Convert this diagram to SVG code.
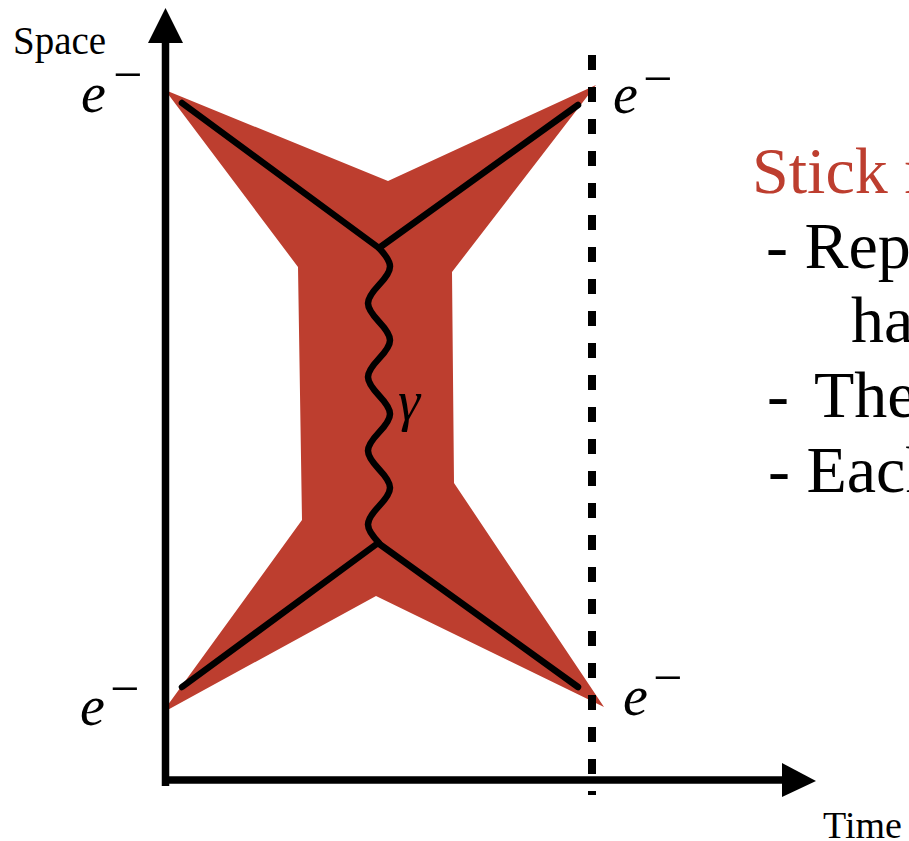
<svg xmlns="http://www.w3.org/2000/svg" width="909" height="841" viewBox="0 0 909 841">
  <style>
    .serif { font-family: "Liberation Serif", "Times New Roman", serif; fill: #000; }
    .math { font-family: "Liberation Serif", "Times New Roman", serif; font-style: italic; font-size: 56px; fill: #000; }
    .minus { font-family: "Liberation Serif", "Times New Roman", serif; font-size: 52px; fill: #000; }
    .body { font-family: "Liberation Serif", "Times New Roman", serif; font-size: 66px; fill: #000; }
    .particle { fill: none; stroke: #000; stroke-width: 6.5; stroke-linecap: round; stroke-linejoin: round; }
    .axis { fill: none; stroke: #000; stroke-width: 7.5; }
  </style>

  <g id="halo">
    <polygon points="165,90 388,181 596,85 452,272 454,483 604,707 376,596 162,713 302,520 298,267" fill="#BD3E2F"/>
  </g>

  <g id="connectors">
    <path class="particle" d="M182,103 L379,248 L578,105"/>
    <path class="particle" d="M182,687 L378,543 L578,687"/>
    <path class="particle" stroke-width="6" d="M379,248 c14.67,15.63 14.67,21.24 0,36.875 c-14.67,15.63 -14.67,21.24 0,36.875 c14.67,15.63 14.67,21.24 0,36.875 c-14.67,15.63 -14.67,21.24 0,36.875 c14.67,15.63 14.67,21.24 0,36.875 c-14.67,15.63 -14.67,21.24 0,36.875 c14.67,15.63 14.67,21.24 0,36.875 c-14.67,15.63 -14.67,21.24 0,36.875"/>
  </g>

  <g id="axes">
    <line class="axis" x1="165.5" y1="786" x2="165.5" y2="40"/>
    <polygon points="165.5,8 148,43 183,43" fill="#000"/>
    <line class="axis" x1="162" y1="780" x2="785" y2="780"/>
    <polygon points="816,781 782,763 782,797" fill="#000"/>
    <line x1="592" y1="55" x2="592" y2="795" stroke="#000" stroke-width="8" stroke-dasharray="15 17"/>
  </g>

  <g id="axis-labels">
    <text class="serif" x="13" y="54" font-size="39">Space</text>
    <text class="serif" x="823" y="838" font-size="38">Time</text>
  </g>

  <g id="e-top-left">
    <text class="math" x="81" y="112">e</text>
    <text class="minus" x="113" y="92">−</text>
  </g>
  <g id="e-top-right">
    <text class="math" x="613" y="113">e</text>
    <text class="minus" x="643" y="96">−</text>
  </g>
  <g id="e-bottom-left">
    <text class="math" x="80" y="725">e</text>
    <text class="minus" x="110" y="706">−</text>
  </g>
  <g id="e-bottom-right">
    <text class="math" x="623" y="715">e</text>
    <text class="minus" x="653" y="695">−</text>
  </g>
  <g id="gamma">
    <text class="math" x="398" y="420" font-size="60">γ</text>
  </g>

  <g id="notes">
    <text class="body" x="752" y="193" style="fill:#BD3E2F">Stick m</text>
    <text class="body" x="766" y="268">- Rep</text>
    <text class="body" x="851" y="342">ha</text>
    <text class="body" y="417"><tspan x="767">- </tspan><tspan x="814">The</tspan></text>
    <text class="body" x="768" y="492">- Each</text>
  </g>
</svg>
